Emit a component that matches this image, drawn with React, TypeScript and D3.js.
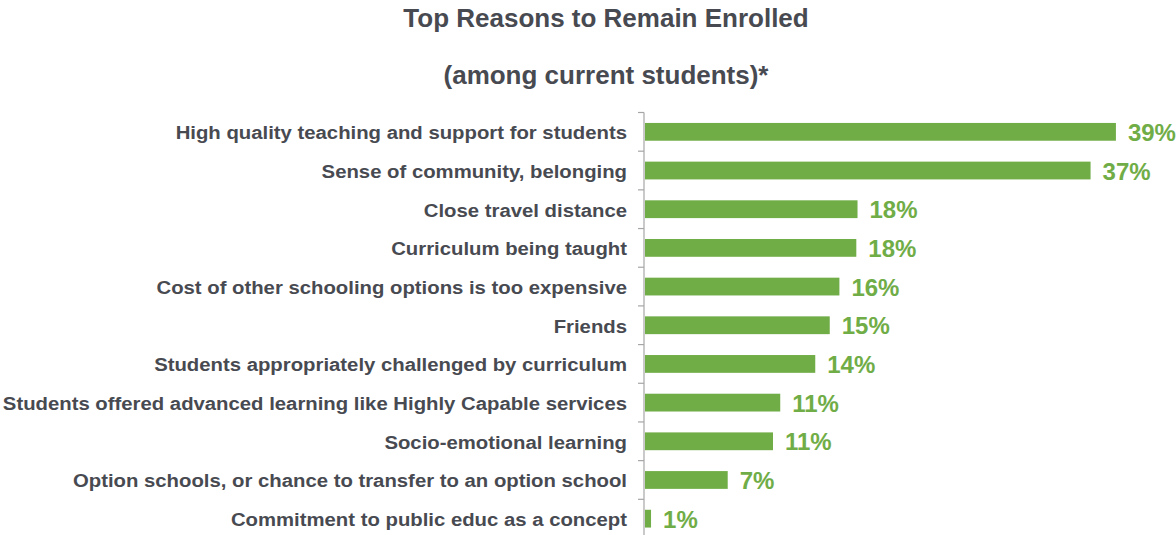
import React from "react";
import * as d3 from "d3";

const categories = [
  "High quality teaching and support for students",
  "Sense of community, belonging",
  "Close travel distance",
  "Curriculum being taught",
  "Cost of other schooling options is too expensive",
  "Friends",
  "Students appropriately challenged by curriculum",
  "Students offered advanced learning like Highly Capable services",
  "Socio-emotional learning",
  "Option schools, or chance to transfer to an option school",
  "Commitment to public educ as a concept",
];
const values = [39.0, 36.9, 17.6, 17.5, 16.1, 15.3, 14.1, 11.2, 10.6, 6.85, 0.5];
const valueLabels = ["39%", "37%", "18%", "18%", "16%", "15%", "14%", "11%", "11%", "7%", "1%"];
const titleLines = ["Top Reasons to Remain Enrolled", "(among current students)*"];

const W = 1176;
const H = 535;
const TEXT = "#484a51";
const GREEN = "#70ad47";
const FONT = "'Liberation Sans', Arial, sans-serif";

export default function App() {
  const x = d3.scaleLinear().domain([0, 40]).range([645, 1128]);
  const y = d3
    .scaleBand<string>()
    .domain(categories)
    .range([112.5, 538])
    .paddingInner(0.54)
    .paddingOuter(0.27);
  const step = y.step();
  const top = 112.5;
  const ticks = d3.range(categories.length + 1).map((i) => top + i * step);
  const x0 = x(0);

  return (
    <svg
      width={W}
      height={H}
      style={{ position: "absolute", left: 0, top: 0, background: "#fff" }}
      fontFamily={FONT}
    >
      <rect x={0} y={0} width={W} height={H} fill="#fff" />
      {titleLines.map((t, i) => (
        <text
          key={t}
          transform={`translate(606, ${i === 0 ? 27 : 84}) scale(1.04,1)`}
          textAnchor="middle"
          fontSize={25}
          fontWeight="bold"
          fill={TEXT}
        >
          {t}
        </text>
      ))}
      {categories.map((c, i) => {
        const yy = y(c)!;
        const cy = yy + y.bandwidth() / 2;
        return (
          <g key={c}>
            <rect x={x0} y={yy} width={x(values[i]) - x0} height={y.bandwidth()} fill={GREEN} />
            <text
              transform={`translate(627, ${cy + 7.5}) scale(1.07,1)`}
              textAnchor="end"
              fontSize={19}
              fontWeight="bold"
              fill={TEXT}
            >
              {c}
            </text>
            <text
              x={x(values[i]) + 12}
              y={cy + 9}
              fontSize={24}
              fontWeight="bold"
              fill={GREEN}
            >
              {valueLabels[i]}
            </text>
          </g>
        );
      })}
      <line x1={644} x2={644} y1={top} y2={top + step * categories.length} stroke="#a6a6a6" strokeWidth={1.2} />
      {ticks.map((t, i) => (
        <line key={i} x1={638} x2={644} y1={t} y2={t} stroke="#a6a6a6" strokeWidth={1.2} />
      ))}
    </svg>
  );
}
